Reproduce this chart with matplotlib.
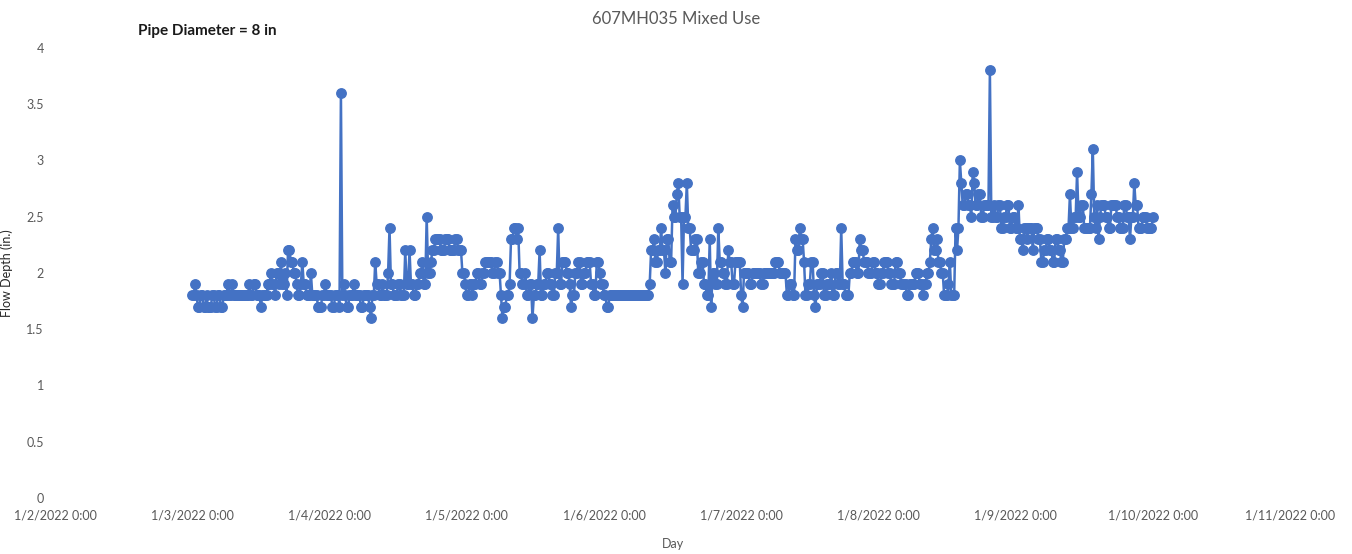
import numpy as np
import pandas as pd
import matplotlib
matplotlib.use("Agg")
import matplotlib.pyplot as plt

plt.rcParams['font.family'] = ['Lato', 'DejaVu Sans']

# flow depth (in.) logged every 15 min, written as (level, number of readings) runs per day
runs_0103 = [(1.8, 2), (1.9, 1), (1.8, 1), (1.7, 2), (1.8, 2), (1.7, 2), (1.8, 1), (1.7, 3), (1.8, 2),
             (1.7, 2), (1.8, 2), (1.7, 2), (1.8, 2),
             (1.8, 1), (1.9, 1), (1.8, 2), (1.9, 1), (1.8, 11),
             (1.9, 1), (1.8, 2), (1.9, 2), (1.8, 3), (1.7, 1), (1.8, 3),
             (1.8, 1), (1.9, 2), (2.0, 1), (1.9, 2), (1.8, 1), (2.0, 2), (1.9, 1), (2.1, 1), (1.9, 2),
             (2.0, 1), (1.8, 1), (2.2, 2), (2.1, 2), (2.0, 2), (1.9, 1), (1.8, 2),
             (1.9, 1), (2.1, 1), (1.9, 2), (1.8, 3), (2.0, 1), (1.8, 4), (1.7, 3), (1.8, 2), (1.9, 1), (1.8, 2)]
runs_0104 = [(1.8, 2), (1.7, 2), (1.8, 3), (1.7, 1), (3.6, 1), (1.8, 1), (1.9, 1), (1.8, 1),
             (1.7, 2), (1.8, 3), (1.9, 1), (1.8, 4), (1.7, 2), (1.8, 4), (1.7, 1), (1.6, 1), (1.8, 2),
             (2.1, 1), (1.9, 2), (1.8, 2), (1.9, 1), (1.8, 3), (2.0, 1), (2.4, 1), (1.9, 2), (1.8, 3),
             (1.9, 2), (1.8, 3), (2.2, 1), (1.9, 2), (2.2, 1), (1.9, 2), (1.8, 2), (1.9, 2), (2.0, 2),
             (2.1, 1), (1.9, 2),
             (2.5, 1), (2.0, 2), (2.1, 1), (2.2, 2), (2.3, 4), (2.2, 3), (2.3, 3), (2.2, 4), (2.3, 2),
             (2.2, 3), (2.0, 2), (1.9, 1)]
runs_0105 = [(1.8, 2), (1.9, 2), (1.8, 1), (1.9, 2), (2.0, 2), (1.9, 2), (2.0, 2), (2.1, 3),
             (2.1, 2), (2.0, 2), (2.1, 2), (2.0, 2), (1.8, 1), (1.6, 1), (1.7, 2), (1.8, 2),
             (1.9, 1), (2.3, 2), (2.4, 2), (2.3, 1), (2.4, 1), (2.0, 2), (1.9, 2), (2.0, 1), (1.8, 2),
             (1.9, 2), (1.6, 1), (1.8, 2), (1.9, 2), (2.2, 1), (1.8, 2), (1.9, 2), (2.0, 2), (1.9, 2),
             (1.8, 2), (2.0, 2),
             (2.4, 1), (1.9, 2), (2.1, 3), (2.0, 2), (1.9, 1), (1.7, 1), (1.8, 2), (2.0, 2), (2.1, 2),
             (1.9, 2), (2.0, 2), (2.1, 3), (1.9, 2), (1.8, 2), (2.1, 2), (2.0, 1), (1.9, 2)]
runs_0106 = [(1.8, 2), (1.7, 2), (1.8, 28),
             (1.9, 1), (2.2, 2), (2.3, 1), (2.1, 2), (2.2, 2), (2.4, 1), (2.2, 2), (2.0, 1), (2.3, 2),
             (2.1, 2), (2.6, 1), (2.5, 2), (2.7, 1),
             (2.8, 1), (2.5, 2), (1.9, 1), (2.5, 2), (2.8, 1), (2.4, 2), (2.2, 3), (2.3, 2), (2.0, 2),
             (2.1, 2), (1.9, 2), (1.8, 2), (2.3, 1), (1.7, 1), (2.0, 2), (1.9, 2), (2.4, 1), (2.1, 2),
             (2.0, 2), (1.9, 2), (2.2, 1), (2.1, 2), (1.9, 2), (2.1, 4)]
runs_0107 = [(1.8, 1), (1.7, 1), (2.0, 4), (1.9, 2), (2.0, 6), (1.9, 2), (2.0, 8), (2.1, 3), (2.0, 5),
             (1.8, 2), (1.9, 2),
             (1.8, 2), (2.3, 1), (2.2, 2), (2.4, 1), (2.3, 2), (2.1, 1), (1.8, 2), (1.9, 2), (2.1, 2),
             (1.8, 1), (1.7, 1), (1.9, 3),
             (2.0, 2), (1.8, 2), (1.9, 3), (2.0, 1), (1.8, 2), (2.0, 2), (1.9, 2), (2.4, 1), (1.9, 2),
             (1.8, 3),
             (2.0, 2), (2.1, 3), (2.0, 2), (2.3, 1), (2.2, 2), (2.1, 3), (2.0, 3), (2.1, 2), (2.0, 2)]
runs_0108 = [(1.9, 2), (2.0, 2), (2.1, 3), (2.0, 2), (1.9, 3), (2.1, 2), (2.0, 2),
             (1.9, 4), (1.8, 2), (1.9, 4), (2.0, 3), (1.9, 2), (1.8, 1), (1.9, 2), (2.0, 2),
             (2.1, 1), (2.3, 1), (2.4, 1), (2.2, 2), (2.3, 1), (2.1, 2), (2.0, 2), (1.8, 3), (1.9, 1),
             (2.1, 1), (1.8, 3), (2.4, 1), (2.2, 1),
             (2.4, 1), (3.0, 1), (2.8, 1), (2.6, 2), (2.7, 2), (2.6, 2), (2.5, 1), (2.9, 1), (2.8, 1),
             (2.6, 2), (2.7, 2), (2.5, 2), (2.6, 4),
             (3.8, 1), (2.5, 2), (2.6, 1), (2.5, 2), (2.6, 2), (2.4, 2), (2.5, 2), (2.6, 2), (2.4, 2),
             (2.5, 2)]
runs_0109 = [(2.4, 2), (2.6, 1), (2.3, 2), (2.2, 1), (2.4, 2), (2.3, 1), (2.4, 3), (2.2, 1), (2.4, 3),
             (2.3, 2),
             (2.1, 2), (2.2, 2), (2.3, 2), (2.2, 2), (2.1, 2), (2.3, 2), (2.2, 2), (2.1, 2), (2.3, 2),
             (2.4, 2),
             (2.7, 1), (2.4, 2), (2.5, 2), (2.9, 1), (2.5, 2), (2.6, 2), (2.4, 5), (2.7, 1), (3.1, 1),
             (2.5, 1), (2.4, 1), (2.6, 1), (2.3, 1), (2.5, 1),
             (2.6, 3), (2.5, 2), (2.4, 2), (2.6, 4), (2.5, 2), (2.4, 3), (2.6, 2), (2.5, 2), (2.3, 1),
             (2.5, 2), (2.8, 1), (2.6, 2), (2.4, 3), (2.5, 3), (2.4, 4), (2.5, 1)]

all_runs = runs_0103 + runs_0104 + runs_0105 + runs_0106 + runs_0107 + runs_0108 + runs_0109
depth = np.repeat([r[0] for r in all_runs], [r[1] for r in all_runs])
times = pd.date_range("2022-01-03 00:00", periods=len(depth), freq="15min")

tick_days = pd.date_range("2022-01-02", "2022-01-11", freq="D")
tick_labels = ["1/2/2022 0:00", "1/3/2022 0:00", "1/4/2022 0:00", "1/5/2022 0:00",
               "1/6/2022 0:00", "1/7/2022 0:00", "1/8/2022 0:00", "1/9/2022 0:00",
               "1/10/2022 0:00", "1/11/2022 0:00"]
y_ticks = [0, 0.5, 1, 1.5, 2, 2.5, 3, 3.5, 4]
y_labels = ["0", "0.5", "1", "1.5", "2", "2.5", "3", "3.5", "4"]

blue = "#4472C4"
grey = "#595959"

fig = plt.figure(figsize=(13.52, 5.54), dpi=100)
ax = fig.add_axes([0.0407, 0.1011, 0.9135, 0.8123])

ax.plot(times, depth, color=blue, linewidth=1.8, marker="o", markersize=6.8,
        markerfacecolor=blue, markeredgecolor=blue)

ax.set_xlim(tick_days[0], tick_days[-1])
ax.set_ylim(0, 4)
ax.set_xticks(tick_days)
ax.set_xticklabels(tick_labels, fontsize=9, color=grey)
ax.set_yticks(y_ticks)
ax.set_yticklabels(y_labels, fontsize=9, color=grey)
ax.tick_params(length=0, pad=8)
for s in ax.spines.values():
    s.set_visible(False)

ax.set_xlabel("Day", fontsize=9, color=grey, labelpad=12)
ax.set_ylabel("Flow Depth (in.)", fontsize=9, color="#262626", labelpad=10)

fig.text(0.5, 0.965, "607MH035 Mixed Use", ha="center", va="center",
         fontsize=12, color=grey)
fig.text(0.102, 0.944, "Pipe Diameter = 8 in", ha="left", va="center",
         fontsize=11, fontweight="bold", color="#1a1a1a")

fig.savefig("out.png", dpi=100)
